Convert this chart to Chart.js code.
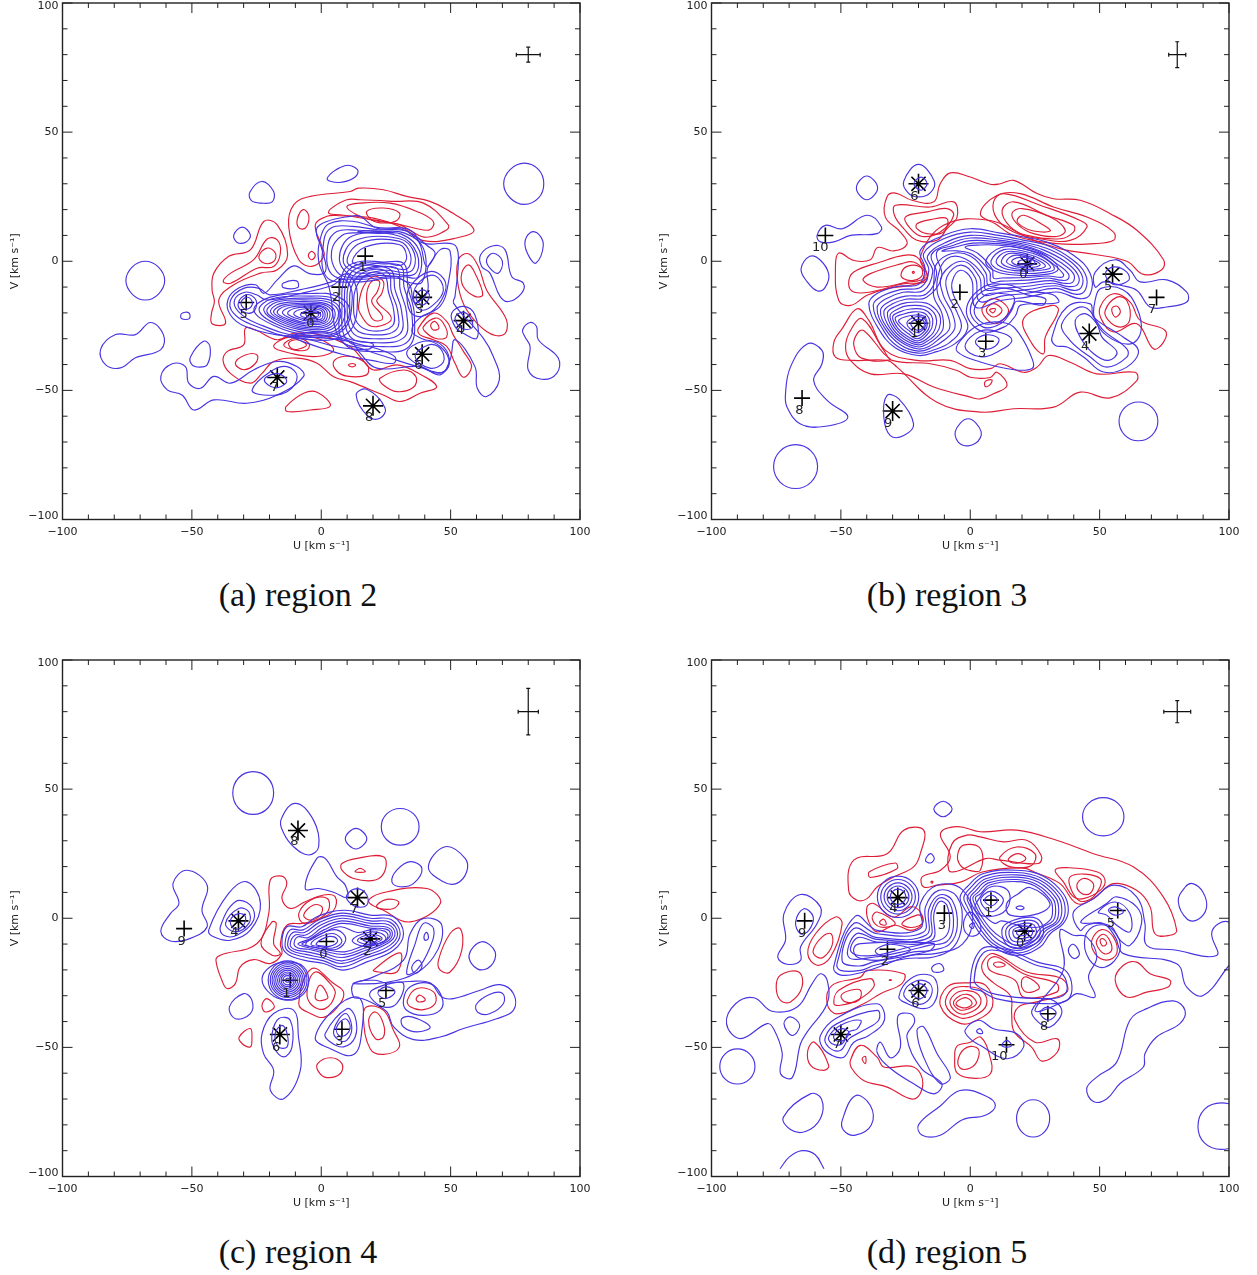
<!DOCTYPE html>
<html>
<head>
<meta charset="utf-8">
<script src="https://cdn.jsdelivr.net/npm/chart.js@4"></script>
<style>
  html, body { margin: 0; padding: 0; background: #fff; }
  #page { position: relative; width: 1257px; height: 1275px; overflow: hidden; }
  canvas { position: absolute; }
  .caption { position: absolute; width: 400px; text-align: center; font: 34px "Liberation Serif", serif; color: #111; }
</style>
</head>
<body>
<div id="page">
  <canvas id="c2" width="608" height="570" style="left:0;top:-10px"></canvas>
  <canvas id="c3" width="608" height="570" style="left:649px;top:-10px"></canvas>
  <canvas id="c4" width="608" height="570" style="left:0;top:647px"></canvas>
  <canvas id="c5" width="608" height="570" style="left:649px;top:647px"></canvas>
  <div class="caption" style="left:98px;top:576px">(a) region 2</div>
  <div class="caption" style="left:747px;top:576px">(b) region 3</div>
  <div class="caption" style="left:98px;top:1233px">(c) region 4</div>
  <div class="caption" style="left:747px;top:1233px">(d) region 5</div>
</div>
<script>
const region2Blue = [
  [2.3,32,9,37,14,35.5,13,32.5,7,30.5],
  [86,30,84,35.5,78.5,38,73,35.5,70.5,30,73,24.5,78.5,22,84,24.5],
  [-27.6,26.7,-23,30.9,-18.4,27,-19,23,-23,22.5,-27,23.5],
  [-33.8,10.2,-30.5,13.2,-27.4,10.2,-29,7.5,-32.5,7.3],
  [78.7,7,81,11.2,84,10.5,85.8,6,83,-0.7,80.5,1.5],
  [-75.5,-7.5,-73,-2.2,-68,0,-63,-2.2,-60.5,-7.5,-63,-12.8,-68,-15,-73,-12.8],
  [-54,-20.3,-51.2,-19.9,-51,-22.2,-54,-22.2],
  [-85.3,-34.2,-79.5,-28.4,-71.8,-28.4,-66,-23.7,-61,-28.4,-62,-34.2,-71.8,-37.4,-77.6,-41.3,-83.4,-40],
  [-50.5,-37,-45.5,-31,-43,-33,-44,-40,-47,-41,-50,-40],
  [-62,-44.6,-59.5,-49.8,-53.8,-51.8,-49.2,-57.6,-41.5,-53.7,-28.7,-55,-17,-51.8,-6.8,-44.6,-9.4,-40.8,-17,-38.8,-26,-42,-35,-47.2,-41.5,-44.6,-46.7,-49.2,-51.2,-47.2,-52.5,-40.8,-57.6,-39.7],
  [-26.7,-49.8,-19.6,-42.7,-13.2,-40.8,-9.3,-44.7,-13.2,-50.5,-22.2,-51.8],
  [-22,-46,-18,-43.5,-14.5,-44.5,-13.5,-47,-18,-49],
  [13.5,-51.8,17.6,-49.6,24.7,-56.9,22.7,-60.8,18.2,-60.2],
  [77.8,-26.6,80.7,-23.7,83.2,-25.3,83.9,-30.4,91.6,-37.5,91,-43.4,85.2,-45.7,80,-42.1,80.7,-33,78.7,-29.2],
  [61.6,2.5,66.5,6,71,4.5,73.6,-5.9,78.1,-8.5,77.4,-12.4,72.3,-15.6,69.1,-13.6,65.2,-4.6,62,-2],
  [63.9,0.6,66.5,3.1,70,0,68.4,-4.6,65.2,-2.7],
  // outer envelope
  [-36.1,-15,-31.9,-10.4,-25.4,-9.1,-22.2,-12.4,-17,-7.2,-10.6,-1.8,-4.2,-4.9,1.6,-4,0.3,4.4,-1.9,12.2,2.2,15.4,11.2,17.4,15,17.4,21.5,12.8,31.8,12.2,39.5,7,51.1,6.6,53,1.9,51.7,-13.6,51.1,-16.2,62.6,-29.8,66.5,-36.9,68.8,-46,63.9,-52.4,60.3,-49.2,59.4,-40.8,51.7,-30.4,49.8,-38.2,45.9,-44,38.2,-40.8,21.5,-41.4,15,-35.6,11.2,-31.1,-17,-28.5,-29.3,-25.3,-35.1,-20.8],
  [-35,-15,-30,-10.5,-24,-10.5,-20,-13,-8,-11,4,-8,10,-5,14,-13,10,-28,-8,-30,-27,-24.5,-34,-20],
  [-33.5,-15,-29.5,-12,-25,-13,-21,-15,-8,-12.5,4,-9.5,9,-7,12,-14,8,-27,-8,-29,-25,-24,-32,-19.5],
  [-32,-16,-29,-13,-26,-14,-25,-17,-27,-20,-31,-19],
  [-31,-16,-29,-14,-27,-15,-27,-17.5,-29.5,-18.5],
  [-14.8,-8.5,-9.5,-7.6,-9.1,-10.2,-14.7,-10.2],
  // star 0 rings
  [-26,-19,-20,-14,-4,-12.5,6,-13.5,11,-19,6,-27.5,-6,-28.5,-18,-25],
  [-24,-19,-19,-14.5,-4,-13.5,5,-14.5,9.3,-19.5,5,-27,-6,-27.6,-17,-24.5],
  [-22.2,-19,-18,-15.3,-4,-14.3,4,-15.3,7.6,-20,4,-26.3,-6,-26.8,-16,-24],
  [-21,-19.5,-17,-15.8,-4,-15,3.2,-16,6.7,-20,3.4,-25.6,-6,-26.2,-15,-23.6],
  [-19.6,-19.7,-16,-16.4,-4,-15.7,2.5,-16.7,5.4,-20.2,2.7,-25,-6,-25.6,-14,-23.3],
  [-18.4,-19.8,-15,-17,-4,-16.3,2,-17.2,4.4,-20.4,2,-24.5,-6,-25,-13,-23],
  [-17,-20,-14,-17.4,-4,-16.8,1.3,-17.7,3.4,-20.5,1.3,-24,-6,-24.3,-12,-22.7],
  [-15,-20,-12,-17.8,-4,-17.3,0.8,-18,2.4,-20.6,0.8,-23.5,-6,-23.8,-11,-22.4],
  [-13,-20.2,-10.5,-18.3,-4,-17.8,0.3,-18.5,1.5,-20.7,0.3,-23,-5,-23.2,-10,-22],
  [-10.6,-20.4,-8.5,-18.8,-4,-18.4,-0.2,-19,0.7,-20.8,-0.3,-22.5,-5,-22.6,-8.5,-21.8],
  [-8,-20.5,-6,-19.3,-3.5,-19,-1,-19.6,-0.2,-20.9,-1.2,-22,-4.5,-22.1,-7,-21.6],
  [-6,-20.6,-4,-19.8,-2,-19.8,-1,-20.8,-2.2,-21.6,-4.5,-21.6],
  // rings round the red S
  [12.5,-17,14,-9,19,-4.5,24.5,-5.5,26,-12,28,-19,27.5,-25,20,-27,14,-24],
  [11,-17,12.5,-8,18.5,-3.5,26,-4.5,27,-11.5,29.5,-19,29,-26.5,20,-28.5,13,-26],
  [10,-17,11.5,-7,18,-2.5,27,-3.5,28.5,-11,31,-19,30.5,-28,20,-30,12,-27.5],
  [9,-17,10.5,-6,16,-1.8,24,-2,29.5,-3,30.5,-11,33,-20,32,-29.5,20,-31.5,11,-29],
  [8,-17,9.5,-5,15,-1,24,-1,31,-2,32,-10,35,-20,33.5,-31,22,-33,10,-30.5],
  [7,-17,8.5,-4,14,-0.3,24,-0.3,32,-1,33.5,-10,36,-21,34,-33,23,-35,9,-32],
  // lower right wing
  [-10,-29.5,4,-29,14,-32,22,-34,28.5,-37,28,-39.5,20,-38.5,8,-36,-6,-31.5],
  [-12,-29,2,-27.5,12,-30.5,20,-32,18.5,-34,8,-33.5,-4,-30.5],
  // rings round cross 1
  [12,0,17,5.5,30,6.5,33,2,31,-1.5,24,-0.5,16,-1.5],
  [10,0,15,7,30,7.8,34.5,2.5,33,-3,25,-2,15,-3],
  [8.5,0,13,8,30,8.8,36,3,34.5,-4,25,-3.5,14,-4.5],
  [7,1,12,9.8,30,9.8,37,3,36,-5,25,-4.5,12,-5.5],
  [4,4,8,10,14,11,22,10.8,31,10.5,38,4,37.5,-6,32,-6,22,-5.5,12,-6.5,6,-4],
  [2.5,6,6,11.5,14,12,22,11.5,32,11,39.5,5,39,-8,33,-8,29,-6,14,-7,4,-5],
  [1,8,4,13,12,13.5,22,12.2,33,11.7,41,6,44,3,41,-3,41,-12,36,-16,34,-9,28,-6.5,14,-8,2,-6],
  [0,10,3,14.5,12,15.5,22,13,34,12.3,38.2,6.5,40.8,-2,46,4.5,49.8,3.9,49.1,-8.4,45.9,-17.5,38,-22,35,-27,39,-30,46,-32,49.5,-38,47,-43,38,-41,25,-37,16,-34,7,-30,3,-10,-1,0],
  [14,11.3,21,11,28,11,20,11.8],
  // star 3, 4, 6
  [35.6,-13.6,38.2,-7.8,44,-5.6,47.2,-11.1,43.3,-16.9,38.2,-18.8],
  [33.3,-16.2,34.3,-9.8,42,-4,47.5,-7,47.5,-13,42,-20,36,-21],
  [36.6,-14.3,38.8,-11.1,41.8,-13,39.5,-16.9],
  [50.4,-20.1,54.9,-17.5,59.4,-20.8,60.1,-29.8,54.9,-27.9,51.7,-25.3],
  [51.7,-22,54.9,-19.7,58.1,-22.7,58.1,-25.9,54.3,-25.9],
  [33,-35.6,39.5,-31,46,-33,49.5,-39.5,46,-43.3,39.5,-41.3],
  [36.3,-36.9,41.4,-32.4,46,-33.7,47.2,-39,42,-41.4]
];
const region2Red = [
  [-8.7,0.6,-12.6,13.5,-10.6,21.9,-4.2,25.1,11.2,27,14.4,28.3,24,27.7,33,25.1,42,23.2,48.5,20,59,12.2,52.3,9,39.5,8,31.8,12.8,20.2,16.7,7.3,17.6,2.2,17.4,-2.3,14.1,0.3,5.7,1,1.9,-3.6,-2],
  [3.5,20.2,9.9,23.8,15,23.8,27.9,23.2,39.5,22.5,49.1,14.1,48.5,12.2,40.8,9.3,35,11.5,30.5,14.1,20.2,16,7.3,18,3,18.5],
  [9.9,21.2,15,22.5,26.6,22.5,36.9,19.3,43.3,15.4,42,12.2,36.3,12.8,29.2,14.5,20.2,15.8,13.7,18],
  [17.6,19.3,24,20.6,30.2,18.7,29.2,15.8,24,14.8,19.5,16],
  [-9.3,16,-7,20,-4.8,17.5,-6,13,-8.5,12.8],
  [-5,2.2,-3.7,3.8,-2.3,2.2,-3.7,0.6],
  [-42.2,-11,-41.5,-4.6,-35.7,1.9,-27.4,4.4,-22.2,15.4,-17,14.1,-13,2.5,-17,-3.3,-23.5,-4.6,-33.8,-9.1,-39.6,-15,-37,-24,-42.2,-24.2,-42.4,-20.1,-41.3,-15.6],
  [-37.9,-7.8,-35,-4.6,-26.1,0.6,-20.9,8.6,-17,8.3,-15.8,3.1,-18.4,-2,-24.8,-2.7,-35,-8.5],
  [-24.1,1.9,-20.9,5.1,-17.7,3.1,-18.4,-0.1,-22.2,-0.7],
  [-37.9,-38.8,-36.4,-35,-30,-32.4,-29.3,-25.9,-25.4,-26.6,-17,-30.4,-10.6,-27.9,-0.3,-28.5,11.2,-33,15,-36.9,20.2,-42.1,29.2,-40.1,36.3,-42.7,44.6,-48.5,38.2,-51.1,30.5,-54.3,24,-51.8,11.2,-46.6,4.8,-44.7,-1.6,-39.5,-9.4,-37.5,-18.4,-38.8,-22.9,-43.4,-27.4,-47.2,-35.1,-43.4],
  [-33.2,-39.5,-29.3,-36.3,-24.8,-36.3,-25.4,-39.5,-29.9,-42],
  [22.7,-45.3,31.8,-42.1,36.6,-44.7,35.6,-48.8,29.2,-50.5,24,-47.9],
  [-18.4,-33,-11.9,-29.2,-1.6,-29.8,4.8,-34.3,-1.6,-36.9,-11.9,-35.6],
  [-14.5,-32.4,-10,-29.8,-4.8,-31.7,-5.5,-34.3,-10.6,-34.3],
  [-12.6,-31.7,-9.4,-30.4,-5.7,-32.4,-8.7,-34,-11.3,-33.9],
  [4.8,-38.8,9,-36.8,14,-37.5,18,-40.5,17.5,-44,10,-44.5,6,-42.5],
  [10.5,-40.2,12,-39.6,13.3,-40.2,12,-40.9],
  [-13.6,-56.3,-6.8,-51.1,-1.6,-50.7,3.5,-56,-4.2,-57.6,-13.2,-58.2],
  [14.4,-17.5,16.3,-9.8,20.2,-5.9,24,-7.8,23.4,-12.4,21.5,-15.6,26.6,-20.8,26.6,-23.3,21.5,-25.3,18.2,-24.6,15,-20.1],
  [17.6,-12.4,19.5,-7.8,22.5,-7.8,21.7,-11.7,19.5,-15.6,23.4,-20.8,23.4,-22.7,20.2,-22.7,18.2,-18.8],
  [37.5,-26,43.3,-20.1,48.5,-23.3,51,-28.5,55,-35,58.1,-40.8,54.9,-44.9,51.7,-39.5,48.5,-33,43.3,-30.4,38.2,-28.5],
  [39.5,-25.3,44,-22,47.2,-24,48.5,-29.2,44,-29.8,40.1,-27.2],
  [42.3,-24.6,44,-23.3,45.5,-25.9,43.3,-26.6],
  [53,0.6,56.9,2.9,60.7,-2,63.9,-11.1,71.6,-22.7,70.4,-28.5,63.9,-27.2,56.2,-18.8,53,-9.8],
  [54.3,-4.6,56.9,-1.4,59.4,-4.6,62.4,-13,59.4,-13.6,54.9,-9.8]
];
const region2Stars = [[-4,-20],[39,-14],[55,-23],[39,-36],[-17,-45],[20,-56]];
const region2Crosses = [[17,2],[7,-10],[-29,-16]];
const region2Labels = [['0',-4.2,-24.2],['1',16,-2.5],['2',5.8,-14],['3',37.8,-18.8],['4',53.7,-27],['5',-30,-20.7],['6',37.5,-40.5],['7',-18,-49],['8',18.5,-60.6]];
const region2Err = [4.6,2.9];

const region3Blue = [
  [-44,28.4,-40,33,-35.8,28.4,-40,23.8],
  [-25.7,31,-20,37.5,-13.9,31,-15.5,26.5,-20,24.9,-24,26.5],
  [-21.8,30,-19,32.6,-16.7,30,-19,27.5],
  [-59.2,10,-56,13.9,-49.5,12.6,-39.9,17.8,-34.3,13.3,-36,10.7,-46.3,10,-52.7,7.5,-57.9,7.5],
  [-65.4,-3,-62,1.9,-58,0.5,-54.7,-5,-56,-10,-59,-11.5,-63,-8],
  [-71.4,-51.3,-69.5,-41,-63,-32,-57.3,-34.5,-57.3,-39.7,-60.5,-46.2,-55.3,-53.9,-47.3,-60.4,-56.6,-64,-65.6,-63,-70.8,-56.5],
  [-33.4,-60.4,-32.2,-52,-27.6,-53.3,-21.9,-63,-25.7,-67.5,-30.9,-67.5],
  [-5.8,-66,-0.8,-61,4.2,-66,2,-70.5,-3.5,-71],
  [-76,-79.5,-73.5,-73.5,-67.5,-71,-61.5,-73.5,-59,-79.5,-61.5,-85.5,-67.5,-88,-73.5,-85.5],
  [57.5,-62,59.7,-56.7,65,-54.5,70.3,-56.7,72.5,-62,70.3,-67.3,65,-69.5,59.7,-67.3],
  // S shaped contours joining star 1 and star 0
  [-39.2,-16.5,-36,-12.5,-28,-9.7,-20,-9,-17.5,-3,-19.3,4.2,-10.3,10,0,12.6,11.6,10.9,20.6,9.4,29.6,7.4,39.9,2.3,46.4,-4.8,46.4,-12.6,42.5,-14.5,33.5,-11.9,21.9,-13.9,11.6,-15.2,2,-17.7,0.5,-7,-3.8,-3.5,-7,-8,-6.5,-13,-3,-20,-1,-26,-6,-32,-13,-35,-20,-36.5,-29,-33.5,-35.5,-26],
  [-37.5,-17,-34,-13.5,-27,-11,-19,-10,-16,-3.5,-18,3,-10,8.8,0,11.3,11,10,20,8.3,30,6,39,1,44.5,-5,44.5,-11,41,-12.8,33,-10.5,22,-12.4,12,-13.5,3.5,-15.5,2,-6.5,-3.5,-1.5,-9,-6,-8.5,-13,-5,-20,-3.5,-26,-8,-31.5,-14,-34.3,-20,-35.6,-28,-33,-34,-26],
  [-36,-18,-32.5,-14.5,-26,-12,-18,-11.3,-14.5,-4,-16.5,2,-9,7.5,0,10,11,9,20,7.5,29.5,5,38,0.5,43,-5,43,-10,40,-11.3,33,-9.5,22,-11,12,-12,5,-13,3.5,-6,-3,0,-11,-5.5,-10.5,-13,-7,-20,-6,-26,-10,-30.5,-15,-33.5,-20,-34.8,-27,-32.3,-33,-26],
  [-34.7,-19,-31,-15.5,-25,-13.5,-17,-12.7,-13,-5,-15,2.5,-8,6.7,0,9,11,8.2,20,6.8,28,4.5,36.5,0,41.5,-5,41.5,-9,38,-9.8,32,-8.5,22,-9.7,12,-10.5,6,-11,5,-5.5,-2,1,-9,1,-12.5,-6,-12.5,-13,-9,-20,-8,-26,-12,-30,-16,-33,-20,-34,-26.5,-31.5,-32,-26],
  [-33.4,-19.5,-30,-16.5,-25,-14.7,-17,-14,-11,-6,-13,3.5,-7,6,0,8,11,7.5,20,6.2,27,4,35,-0.5,40,-5,39.5,-8.2,36,-8.5,31,-7.5,22,-8.5,12,-9,7,-9.5,6,-4.5,0,2,-7,3,-13,-1,-14,-7,-14,-14,-11,-20,-10.5,-26,-13,-29.5,-16.5,-32,-20,-33.2,-26,-31,-31,-26],
  // star 1 rings
  [-32,-20,-29,-17.5,-24.5,-16,-17,-16.2,-13,-19,-11.5,-22,-12,-26,-14,-29,-17,-31.2,-20,-32.4,-25.5,-30.3,-30,-26],
  [-31,-21,-28,-18.5,-24,-17.2,-17.5,-17.5,-14,-20,-13,-23,-13.5,-26,-15,-28.5,-20,-31.6,-25,-29.6,-29,-26],
  [-30,-21.5,-27,-19.5,-23,-18.5,-18,-18.7,-15,-21,-14.5,-24,-15.5,-27,-20,-30.8,-24.5,-28.9,-28,-26],
  [-29,-22,-26,-20.5,-22,-19.6,-18,-20,-16,-22,-15.7,-25,-17,-27.5,-20.5,-30,-24,-28,-27,-25.5],
  [-27.7,-23,-25,-21.5,-21,-20.8,-18,-21.2,-16.8,-23,-17,-26,-20.5,-29,-23.5,-27,-26,-25],
  [-24.5,-24,-21,-21.5,-17.5,-22.5,-17.5,-25.5,-21,-27.5],
  [-23,-24,-20,-22.5,-17.8,-23.5,-18.5,-26,-21,-26.5],
  // band round star 0
  [-11,4,-5,5.7,1,7,11,6.8,20,5.6,27,3.5,33.5,-1,38,-5,37.5,-7.2,34,-7.2,30,-6.5,22,-7.3,12,-7.7,8,-8,7.5,-4,1,2.5,-5,4],
  [-2,5.5,4,6.3,11,6.2,20,5,26,3,32,-1,36,-5,35.5,-6.2,30,-5.7,22,-6.3,12,-6.5,9,-6.5,8.5,-3,3,3],
  [6,0,12,5.3,22,4.5,30,1.5,34,-3,30,-5,20,-5.5,10,-4],
  [8,0,13,4.5,22,3.6,29,1,32.5,-3,28.5,-4.3,20,-4.7,11,-3.3],
  [10,0,14,3.7,22,2.8,28,0.5,31,-2.5,27,-3.5,20,-3.8,13,-2.7],
  [12,0,15,3,22,2.1,27,0,29,-2,25.5,-3,20,-3.2,14,-2],
  [14,0,17,2.3,22,1.5,26,-0.3,27,-1.5,24,-2.4,20,-2.5,16,-1.6],
  [16,0,19,1.5,23,1,25,-0.5,23,-1.7,19,-1.8],
  [18.5,-0.2,21,0.6,23.5,-0.1,22,-1,19.5,-1],
  // below star 0
  [0,-19,5,-11.5,14,-10.5,22,-13,29,-14.5,28,-17,18,-15.5,16,-19,12,-24,5,-25.5],
  [-1.5,-19,5,-10,14,-9,22,-11.5,32,-13,34,-16,19.5,-17,17.5,-21,13,-25.5,4,-27],
  [1.5,-19,6,-13,12,-12.5,17,-14,15,-20,11,-23.5,5,-24],
  // cross 3
  [2,-31,6,-28.5,11,-30,9.5,-33,5,-34],
  [-2,-33,3.9,-27,12.9,-28,16.1,-30.7,11.6,-34.5,3.9,-37],
  [-5,-35,-4,-31,3.9,-24.5,14,-24,18.9,-28,24,-38,23.9,-41.5,17,-42,3.9,-39],
  // star 4
  [40.6,-22.9,44.4,-20.3,48.9,-24.2,50.9,-29.4,56.7,-35.2,53.4,-38.4,47.7,-35.8,42.5,-29.4],
  [35.4,-24.2,43.8,-17.7,51.5,-26.8,60.5,-33.9,60.5,-37.1,52.8,-41,46.4,-37.1,38.6,-30.7],
  [31.6,-29.4,37.4,-17.7,46.4,-16.5,47.7,-21.6,59.2,-29.4,65,-34.5,60.5,-41,51.5,-42.9,43.8,-37.1,37.4,-33.2,32.9,-32.6],
  // star 5 and tail to cross 7
  [48.3,-4.2,56,0.6,61.8,-3.5,65.7,-8,76,-7.2,83.7,-12,83.7,-15.8,76,-17.7,69.5,-17.7,64.4,-11.3,58,-9.3,51.5,-8,48.3,-10],
  [52.2,-4.8,55.4,-2.2,60.5,-4.2,61.2,-7.4,55.4,-9],
  [48.3,-15,50.5,-10.5,59,-11,64.4,-18,66,-27,62,-32,53,-29,48,-22]
];
const region3Red = [
  [-50.8,-15.2,-52.1,-2.2,-50.8,3.2,-45,0.3,-38.6,0.6,-35.8,5.3,-29.6,4,-24.4,6.8,-27,11.3,-32.8,17.1,-32.2,24.9,-28.9,26.4,-22.5,23.6,-14.1,23,-11.6,30,-7.7,34.2,0,32.6,7.7,29.8,11.6,30,16.8,31.3,25.8,26.2,32.2,24.2,42.5,23.6,54.1,18.4,64.4,12,74.7,0.6,74,-3.3,67,-5.1,60.5,0,47.7,2.7,36.1,4.5,23.2,8.7,7.7,15.8,-10.3,13.9,-19.3,1.6,-16.7,-6.1,-21.9,-9,-32.1,-10.6,-39.9,-13.2,-46.3,-17.1],
  [-28.9,21.7,-15.4,21,-6.4,23,-5.1,17.1,-9,12.6,-12.9,8.1,-20.6,8.1,-25.7,12.6,-29.3,17.8],
  [-25.1,17.1,-16.7,19.1,-9,20.4,-6.4,17.8,-11.6,11.3,-18.6,9.6,-23.1,12.6],
  [-20.6,14.5,-15.4,16.1,-9,16.5,-10.3,11.3,-16.7,10.7,-20.6,12.6],
  [-47,-8.7,-45,-4.2,-34.7,-0.3,-25.7,2.3,-20.6,1.6,-16.7,-4.8,-17.4,-8,-25.7,-8.7,-38.6,-11.9,-45,-11.9],
  [-41.4,-7.4,-38.6,-4.8,-26.4,-0.9,-21.9,-0.3,-18,-3.5,-18,-6.8,-24.4,-8.1,-36,-10],
  [-26.7,-4.8,-24.4,-2,-19.3,-2.2,-18.6,-5.5,-21.9,-7.4,-25.7,-6.8],
  [-22.4,-4.3,-22,-3.9,-21.6,-4.3,-22,-4.7],
  [-52.7,-31.3,-49.5,-26.1,-43.7,-18.4,-39.2,-22.9,-32.8,-34.5,-20.6,-38.4,-7.7,-38.4,0,-41.6,7.7,-41.6,11.6,-39.7,20.6,-43,25.8,-41,30.3,-36.5,38.6,-39.1,48.9,-43.6,63.7,-43,64.4,-46.2,54.1,-52.9,42.5,-50.7,32.2,-56.5,16.8,-57.1,3.9,-58.4,-12.9,-54.6,-28.3,-41,-32.1,-38.4,-45,-38.4,-52.1,-37.1],
  [-48.2,-33.2,-46.3,-26.8,-41.8,-22.3,-33.4,-34.5,-30.2,-38.4,-15.4,-39.7,-5.1,-42.3,0,-44.9,7.7,-45,10.3,-43,14.2,-48.1,9,-51.3,3.9,-53.3,0,-52.6,-14.1,-48.7,-25.7,-43.6,-38.6,-43.6,-46.3,-38.4],
  [-45,-32.6,-43.7,-28,-41.2,-26.8,-33.4,-35.8,-31,-38.2,-42,-37.5],
  [5.8,-46.5,8.4,-46,7.5,-48,5.8,-48.5],
  [4.5,-19,9,-14.5,14.8,-19,9.7,-24.2],
  [6.2,-19,9,-16.4,12.3,-19,9,-21.6],
  [7.5,-18.8,9.7,-18.4,8.8,-20],
  [20.6,-22.3,31.6,-17.1,34.1,-19,29,-29.4,28.3,-35.8,23.9,-32],
  [50.2,-17.7,55.4,-12.6,61.8,-15.8,65.7,-22.9,75.3,-26.8,74.7,-31.3,70.8,-33.9,64.4,-24.2,55.4,-27.4,50.9,-22.9],
  [52.2,-19,56.7,-13.9,60.5,-15.2,61.6,-22.9,58,-25.5,53.4,-22.9],
  [54.7,-18.4,56.7,-17.4,58,-19.7,56,-21.6],
  [3.9,18.4,10.3,25.5,19.3,26.2,32.2,21,45.1,17.1,55.4,11.3,55.4,8.1,47.7,6.8,33.5,6.8,16.8,10,9.7,14.5],
  [9,23,12.9,26.2,27,21.7,42.5,15.8,45.1,13.3,38.6,8.1,27,8.7,16.8,11.3,10.3,16.5],
  [12.3,19.7,16.8,23,29.6,17.8,39.9,13.9,39.9,11.3,34.8,8.7,21.9,10,15.5,13.3],
  [16.1,18.4,20,20.4,30.9,17.1,36.7,12,33.5,9.6,24.5,10.7,18.7,13.9],
  [18.1,15.8,20.6,17.8,28.4,13.9,30.9,11.7,24.5,11.7,20,13.5]
];
const region3Stars = [[22,-1],[-20,-24],[46,-28],[55,-5],[-20,30],[-30,-58]];
const region3Crosses = [[-4,-12],[6,-31],[72,-14],[-65,-53],[-56,10]];
const region3Labels = [['0',20.5,-5],['1',-21.6,-28],['2',-6,-16.7],['3',4.6,-35.7],['4',44.4,-33],['5',53.3,-9.7],['6',-21.6,25],['7',70.3,-18.6],['8',-66,-57.8],['9',-31.7,-63],['10',-58,5.4]];
const region3Err = [3.3,5];

const region4Blue = [
  [-34.2,48.5,-31.9,54.4,-26.3,56.8,-20.7,54.4,-18.4,48.5,-20.7,42.6,-26.3,40.2,-31.9,42.6],
  [-15.6,38,-10,44.5,-3,38,-1,27.7,-4.9,24.5,-10.7,27.7,-14.5,32.9],
  [9.3,30.8,13.4,34.8,17.6,30.8,13.4,26.8],
  [23.2,35.4,25.3,40.4,30.5,42.5,35.7,40.4,37.8,35.4,35.7,30.4,30.5,28.3,25.3,30.4],
  [27.3,14.1,29.2,18.6,34.4,21.9,38.9,19.3,35.7,13.5,30.5,12.2],
  [41.4,19.9,47.9,27.7,55.6,23.2,56.2,18,52.4,13.5,47.2,14.1],
  [57.1,-14.4,62,-9.1,67.2,-13,65.5,-18.5,60.5,-19.7],
  [-55,5.7,-57.3,13.5,-51.9,18.6,-44.1,12.8,-46.1,3.1,-44.1,-3.3,-50.6,-7.8,-58.3,-8.8,-62,-5,-58.3,1.8],
  [-43.5,-4.6,-35.8,9.6,-28.7,14.1,-23.5,5.7,-27.4,-4.6,-35.1,-8.5,-41.6,-7.2],
  [-39,-3.3,-33.2,6.4,-27.4,5.1,-26.1,-0.7,-32.6,-6.6,-37.7,-6.6],
  [-37,-2,-31.9,3.8,-28,2.5,-28,-2,-33.2,-5.3],
  [-35.1,-0.7,-31.9,1.8,-29.3,0.6,-30.6,-3.3,-33.8,-4],
  [-6.2,11.5,-1.7,23.2,1.5,23.2,6,16.1,9.3,12.8,10,8,5,10,-1,11.5],
  [9.9,9,13.8,11.5,17.6,9,17.6,5.1,13.8,4.4,10.6,6.4],
  // centre, rings round crosses 0 and star 2
  [-15.2,-9.8,-13.3,-3.3,-7.5,-3.3,-1.7,0.6,8.6,3.1,18.9,1.2,27.9,0.6,31.8,-5.9,27.9,-12.4,17.6,-16.9,8.6,-20.1,0.9,-17.5,-6.8,-16.2,-13.3,-13.7],
  [-14,-10,-12,-4.5,-7,-4.5,-1,-0.7,8,2,19,0,27,-0.5,30.5,-6,27,-11.5,17,-15.5,8,-18.8,1,-16.5,-6.5,-15,-12.5,-13],
  [-13,-10,-11,-5.5,-6.5,-5.5,-0.5,-1.5,8,1,19,-1,26.5,-1.5,29.5,-6,26.5,-10.5,17,-14.5,8,-17.5,1,-15.5,-6,-14,-11.5,-12.5],
  [-12,-10,-10,-6.5,-6,-6.5,0,-2.5,8,0,19,-2,26,-2.5,28.5,-6,26,-9.5,17,-13.5,8,-16.5,1,-14.5,-5.5,-13,-10.5,-12],
  [-10.5,-10,-9,-7.2,-5,-7.5,0.5,-3.5,8,-1,19,-3,25.5,-3.5,27.5,-6,25.5,-9,17,-12.5,8,-15.2,1,-13.5,-5,-12,-9,-11.5],
  [-9,-10,-4.5,-8,1,-4.5,8,-2,19,-3.8,25,-4.2,26.7,-6,25,-8.5,17,-11.5,9,-14,1,-12.7,-4.5,-11.5],
  [-7.5,-10,-4,-8.3,1.5,-5.2,7.5,-3.3,14,-5.5,19,-4.5,24.5,-5,25.8,-7,23.5,-9.5,17,-10.5,9,-13,1,-12,-4,-11],
  [-6,-10,0,-6,6,-4.5,9.5,-8,6,-12,-1,-11.5],
  [-4,-10,0,-7,5,-6,8,-9,4.5,-11.5,-0.5,-11],
  [-2,-10,1.5,-7.5,5,-7.2,6.3,-9,3.5,-10.8,0,-10.7],
  [12,-8.5,18,-5.5,23,-5.8,25,-8,22,-10,16,-10.8],
  [14,-8.5,18.5,-6.3,22,-6.7,23.5,-8,21,-9.5,17,-10],
  [16,-8.3,19,-7,21.3,-7.4,21.8,-8.4,19.5,-9.3],
  // cross 1 rings
  [-22.9,-23.7,-19.7,-18.8,-13.3,-16.9,-6.8,-18.8,-4.9,-25.3,-8.1,-30.4,-13.9,-31.7,-19.7,-29.2],
  [-20.5,-24,-18.3,-18.7,-13,-16.5,-7.7,-18.7,-5.5,-24,-7.7,-29.3,-13,-31.5,-18.3,-29.3],
  [-19.7,-24,-17.7,-19.3,-13,-17.3,-8.3,-19.3,-6.3,-24,-8.3,-28.7,-13,-30.7,-17.7,-28.7],
  [-19,-24,-17.2,-19.8,-13,-18,-8.8,-19.8,-7,-24,-8.8,-28.2,-13,-30,-17.2,-28.2],
  [-18.3,-24,-16.7,-20.3,-13,-18.7,-9.3,-20.3,-7.7,-24,-9.3,-27.7,-13,-29.3,-16.7,-27.7],
  [-17.6,-24,-16.2,-20.8,-13,-19.4,-9.8,-20.8,-8.4,-24,-9.8,-27.2,-13,-28.6,-16.2,-27.2],
  [-16.9,-24,-15.7,-21.3,-13,-20.1,-10.3,-21.3,-9.1,-24,-10.3,-26.7,-13,-27.9,-15.7,-26.7],
  [-16.2,-24,-15.2,-21.8,-13,-20.8,-10.8,-21.8,-9.8,-24,-10.8,-26.2,-13,-27.2,-15.2,-26.2],
  [-15.5,-24,-14.8,-22.2,-13,-21.5,-11.2,-22.2,-10.5,-24,-11.2,-25.8,-13,-26.5,-14.8,-25.8],
  [-14.8,-24,-14.3,-22.7,-13,-22.2,-11.7,-22.7,-11.2,-24,-11.7,-25.3,-13,-25.8,-14.3,-25.3],
  [-14,-24,-13,-23.2,-12,-24,-13,-24.8],
  // right hand side
  [12.5,-25.3,31.8,-23.3,43.4,-15,46.6,-2.7,39.5,-0.1,34.4,-5.9,31.8,-16.2,20.2,-22.7],
  [36.3,-9.8,39.5,-2,43.4,-4,42.1,-11.1,36.9,-20.1,33,-21.4],
  [35,-18.8,37.6,-16.2,38.9,-18.8,36.3,-21.4],
  [39.8,-6.6,40.8,-5.5,41.4,-7.8,40.1,-8.5],
  [19.6,-27.9,26.6,-25.3,31.8,-25.3,29.2,-33,24,-34.3,18.9,-30.4],
  [22,-28.5,25.5,-26.6,28.5,-28.5,25.5,-31,23,-30.5],
  [12.5,-25.3,12.5,-30.5,15.7,-31.1,20.2,-33,25.4,-36.3,28,-42.1,35.7,-47,46,-46,55,-42.7,67.8,-38.9,74.3,-35.6,74.3,-29.2,69.1,-25.7,61.4,-27.9,51.1,-31.1,46.6,-30.5,42,-25,34,-24.5,25,-25,20.5,-24],
  [31.8,-31.4,34.4,-26.5,42.1,-25.3,46.6,-30.5,46,-35.6,39.5,-37.6,33,-35.6],
  [59.9,-33.4,65,-29.5,70,-29,70.4,-33,65,-37,60.6,-36.5],
  [31.1,-38.9,35,-38.2,42.1,-42.1,37,-44,31.8,-42.1],
  // cross 3, star 6
  [-2.3,-46,7.3,-33.1,15,-31.1,15.7,-43.4,12.5,-52.8,3.5,-50.5],
  [1.5,-44.7,9.9,-35,13.1,-38.2,13.1,-46,8.6,-49.8,3.5,-47.9],
  [4.8,-43.4,9.3,-36.9,11.8,-42.1,9.9,-47.2,6.7,-47.2],
  [6,-42.1,9.3,-38.9,11.2,-42.1,9.3,-45.3,6.7,-45.3],
  [-35.5,-34.3,-30,-29.2,-26.8,-31.7,-27.4,-36.9,-33.2,-38.9],
  [-22.9,-44.7,-18.4,-36.9,-10.7,-35.6,-8.8,-46,-8.1,-58.9,-14.5,-69.9,-19.7,-66.6,-18.4,-58.9,-22.3,-52.4],
  [-19,-44.7,-16.5,-38.9,-12,-39.5,-11.3,-49.8,-14.5,-53.7,-18.4,-49.8],
  [-17.8,-44.7,-15.2,-41.5,-13.2,-44.7,-13.2,-49.8,-16.5,-49.8]
];
const region4Red = [
  [8,21.2,13.8,23.2,24,23.8,24.7,18.6,20.9,14.8,12.5,15.4,8,18.6],
  [13.1,18,15,19.3,17,18],
  [-40.7,-16.2,-39,-14.3,-24.8,-9.8,-20.3,1.8,-19.7,14.8,-15.2,16.3,-13.3,13.5,-15.2,7.7,-12,3.8,-6.2,6.4,0.9,9,5.4,8.3,4.8,3.1,-1.7,-0.7,-7.5,-2,-13.3,-2.7,-15.8,-9.8,-15.2,-13.7,-19.7,-17.5,-26.1,-16,-31.3,-18.8,-33.2,-25.3,-36.4,-27.2,-38.4,-24],
  [-8.7,1.8,-4.2,7,2.2,7.7,2.8,3.1,-1.7,-0.7,-6.8,-2],
  [-6.8,1.2,-3,5.1,0.3,4.4,-0.4,1.2,-4.2,-0.7],
  [-23.3,-9.8,-19,-1.4,-17.4,-2,-18.4,-9.8,-15.8,-13.7,-19,-14.3],
  [18.3,6.4,22.8,9.6,40.8,11.5,46,5.7,34.4,-1.4,24,3.1],
  [21.5,5.1,25.4,7.3,29.9,6.4,28,3.8,22.1,3.8],
  [20.2,-20.1,30.5,-13.4,29.2,-20.8,22.1,-20.8],
  [45.3,-16.2,49.8,-5.9,53.7,-4,54.3,-12.4,49.8,-20.8,46,-20.1],
  [-8.7,-33,-3.6,-19.5,4.8,-25.3,8.6,-28.5,7.3,-33,1.5,-38.2,-4.2,-36.9],
  [-5.5,-28.5,-2.3,-20.8,3.5,-25.3,5.4,-29.2,1.5,-35,-3.6,-33.7],
  [-2.3,-29.8,-0.4,-25.9,2.6,-30.5,0.9,-31.7,-1.7,-31.7],
  [-22.9,-33.7,-21,-31.1,-18.1,-34.3,-21.6,-36.3],
  [33.3,-31.7,37,-27.2,43.4,-28.5,44,-33,39.5,-35.4,34.4,-34.3],
  [36.7,-31.1,38.2,-29.8,40.2,-31.7,37.6,-32.4],
  [16.3,-38.9,17.6,-34.3,24,-35.6,27.9,-43.4,30.2,-49.8,24,-52.7,18.9,-50.5],
  [18.3,-39.5,20.9,-36.3,24,-40.8,24,-46,20.9,-46.6],
  [-31.7,-46,-27.4,-42.7,-26.8,-47.2,-27.4,-49.8,-30.6,-48.5],
  [-1.4,-56.3,3.5,-54,8,-56.3,7.3,-60.2,2.2,-61.7,-1,-59.5]
];
const region4Stars = [[19,-8],[-32,-1],[-16,-45],[14,8],[-9,34]];
const region4Crosses = [[2,-9],[-12,-24],[8,-43],[25,-28],[-53,-4]];
const region4Labels = [['0',0.8,-14],['1',-13.5,-29],['2',17.8,-12.8],['3',7,-47.7],['4',-33.6,-5.4],['5',23.5,-33],['6',-17.4,-50],['7',12.7,3.5],['8',-10.4,29.5],['9',-54,-9]];
const region4Err = [3.9,9];

const region5Blue = [
  [-14.1,42.3,-10.5,45.3,-7,42.3,-10.5,39.3],
  [-74.4,-15,-71.4,-8.5,-72,1.8,-65.6,9.2,-57.9,4.4,-59.2,-2,-65.6,-11.1,-65.6,-16.3,-70.8,-17.8],
  [-67.5,-1.4,-64.3,3.7,-60.7,0.5,-62.4,-4.7,-65.6,-6],
  [-94.2,-40.8,-90.7,-33.1,-83.6,-30.8,-76.6,-36,-66.9,-34.4,-61.1,-25.3,-57.9,-21.5,-55.3,-24,-55.3,-33,-63,-44,-65.6,-48.6,-68.8,-61.7,-73.3,-60.2,-72.7,-52,-75.9,-43,-78.5,-40.8,-88.8,-46.6],
  [-72,-40.8,-69.5,-38.2,-65.9,-41.5,-68.8,-45.4],
  // cross 2 band
  [-52.8,-18.9,-44.4,0.8,-36,-4.7,-19.3,-4,-19.3,5.7,-12.8,12.8,-3,11,1,0,-3,-10,-13,-13.6,-23,-14.4,-33,-18,-42,-21,-50,-22],
  [-51.5,-17.6,-45,-2,-36,-6,-18,-5.3,-17.3,4.4,-12.2,10.8,-5.1,8.3,-3.2,-2,-6.4,-11.1,-14.1,-15,-24.4,-15.6,-37.3,-18.3,-42.4,-20.2,-50.2,-20.2],
  [-49.5,-16.5,-45,-4,-36,-7.5,-17,-6.5,-16,3.5,-12,9,-7,7,-5,-3,-8,-10,-15,-12.5,-24,-14.5,-37,-16.8,-43,-18.5],
  [-47,-15,-44,-6,-36,-8.2,-16,-7.5,-15,2.5,-12,7.8,-8,6,-6.5,-3,-9,-9,-16,-10.5,-24,-12.5,-37,-15],
  [-46,-13,-43.5,-7.5,-36,-9.2,-15,-8.5,-14,2,-11.8,6.5,-9,5,-8,-3,-10,-7.5,-16,-9.5,-25,-11.5,-38,-14.5],
  [-45,-11.7,-42.4,-9.8,-14.1,-9.8,-15.4,-12.4,-21.9,-13,-29.6,-15,-36,-16.3,-43.7,-15],
  [-36.7,-12.8,-31.5,-10.1,-23.1,-12.2,-31.5,-15],
  // star 4
  [-35.9,8.3,-33.5,14,-27.9,16.3,-22.3,14,-19.9,8.3,-22.3,2.6,-27.9,0.3,-33.5,2.6],
  [-34.6,8.3,-32.6,13,-27.9,15,-23.2,13,-21.2,8.3,-23.2,3.6,-27.9,1.6,-32.6,3.6],
  [-33.3,8.3,-31.7,12,-27.9,13.7,-24.1,12,-22.5,8.3,-24.1,4.6,-27.9,2.9,-31.7,4.6],
  [-32.1,8.3,-30.9,11.2,-27.9,12.5,-24.9,11.2,-23.7,8.3,-24.9,5.4,-27.9,4.1,-30.9,5.4],
  [-30.9,8.3,-30,10.4,-27.9,11.3,-25.8,10.4,-24.9,8.3,-25.8,6.2,-27.9,5.3,-30,6.2],
  // star 6
  [-27.6,-30.5,-23.1,-23.4,-15.4,-22.1,-12.6,-26.6,-14.1,-33,-18,-35,-24.4,-33],
  [-25.7,-29,-21.2,-24.4,-16,-25,-14.8,-29,-18,-33,-23.1,-32.4],
  [-22.9,-28.5,-19.6,-25.3,-16.7,-27.9,-19.3,-31.2],
  // star 7
  [-57.9,-45.4,-52.1,-38.9,-36,-33.1,-33.2,-39.5,-39.2,-45.4,-45,-48,-48.9,-53.8,-53.4,-53.1,-57.2,-49.9],
  [-56,-46,-51.5,-40.8,-36,-35.7,-35.4,-39.5,-41.2,-43.4,-46.9,-46.7,-50.2,-51.2,-54.7,-49.9],
  [-54.7,-46,-50.2,-41.5,-42.4,-39.5,-43.7,-42.8,-46.9,-44.1,-49.5,-48.6,-53.4,-48.6],
  [-52.7,-45.3,-49.9,-42.8,-46.9,-44.1,-48.9,-47.2,-52.1,-47.2],
  // lower wiggles
  [-20.6,-43.4,-18,-42.1,-12.8,-52.5,-7.7,-61.5,-11.6,-64,-18,-53.8],
  [-34.7,-48,-30.9,-54,-27,-50,-28,-38,-23,-37,-21.5,-40,-24.5,-46,-19,-58,-11,-64,-14,-68,-22,-64,-31,-58,-36,-52],
  [-72.2,-77,-61.8,-68,-57.5,-70,-57.9,-77.5,-63.7,-82.6,-69.5,-81.8],
  [-49.4,-78,-44.4,-68.7,-38.6,-72.5,-38.2,-80,-44.4,-84,-49,-82],
  [-96.8,-57.4,-94.8,-52.6,-90,-50.6,-85.2,-52.6,-83.2,-57.4,-85.2,-62.2,-90,-64.2,-94.8,-62.2],
  [-20,-80,-11.6,-72.7,-3.9,-66.7,5.8,-68.7,9.7,-72.5,5.8,-76.3,-3,-78,-11.6,-84,-18.6,-84],
  [17.9,-77.5,19.8,-72.4,24.3,-70.3,28.8,-72.4,30.7,-77.5,28.8,-82.6,24.3,-84.7,19.8,-82.6],
  [45,-66,48.9,-61.5,56.6,-55.7,61.7,-39.5,68.2,-35,78.5,-32,83,-35.7,81,-40.8,72,-46,67.5,-52.5,66.9,-57.6,57.9,-64,52.7,-70,47.6,-71],
  [43.4,39.3,45.7,44.5,51.4,46.7,57.1,44.5,59.4,39.3,57.1,34.1,51.4,31.9,45.7,34.1],
  [80.4,6.5,83,12,86,13.4,90,10,91.3,4,88,-0.5,84,-0.5],
  [88,-80.6,90.5,-74,97,-71.5,104,-74,106,-80.6,104,-87,97,-89.5,90.5,-87],
  // right side
  [39.9,2.4,47.6,7.6,55.3,12.8,64.3,8.3,67.5,-2,68.2,-10.5,78.5,-12.2,95.2,-14.4,93.3,-6,95.9,-2.1,100.6,-1.8,108,-10,100.6,-17.6,90,-29.9,83.6,-26.6,79.8,-17.6,59.2,-13.7,56,-7.2,51.4,-2,45,-2.7,42.4,-4.7],
  [42.7,-1.4,52.7,5.7,56.6,8.3,64.3,4.4,66.2,-2,61.7,-10.5,57.9,-8.5,54.7,-3.4,50.2,-2],
  [49.5,2.4,56,6.3,61.7,1.8,61.7,-5.3,56.6,-2.7,52.7,1.2],
  [53.4,3.1,56,4.4,59.2,2.4,56,1.2],
  [44.4,-7.2,48.9,-2.7,55.3,-4.7,57.9,-12.4,52,-19,46,-16],
  // centre, cross 1 and star 0
  [-3.9,8.3,-1.3,12.1,5.1,17.3,18,18.6,28.3,16.3,36,9.5,37.9,3.1,36,-2,30.9,-6,27,-11.1,18,-14.4,9,-11.1,3.8,-6,0,0.2,-2.6,4.4],
  [-2.5,8,-0.2,11.5,5.5,16.3,18,17.7,27.5,15.5,35,9,36.7,3,35,-2,30,-5.5,26,-10.5,18,-13.5,9.5,-10.3,4.8,-5.5,1,0.2,-1.2,4.5],
  [-1.2,8,1,11,6,15.3,18,16.8,27,14.7,34,8.5,35.4,3,34,-1.5,29,-5,25.3,-9.8,18,-12.5,10,-9.5,5.8,-5,2,0.5,0,4.5],
  [0,8,2,10.5,6.5,14.5,18,15.9,26.2,14,33,8,34.2,3,33,-1.5,28,-4.5,24.5,-9,18,-11.5,11,-8.5,6.8,-4.5,3,1,1,4.5],
  [1,8,3,10,7,13.7,18,15,25.5,13.2,32,7.5,33,3,32,-1,27,-4,23.5,-8.5,18,-10.5,12,-7.5,7.8,-4,4,1.2,2,4.8],
  [2,8,4,9.5,7.5,12.9,18,14.2,25,12.5,31,7,31.8,3,31,-0.5,26,-3.5,18,-2.5,12,-1,9.5,-2,5,1.5,3,5],
  [18.6,9.5,23.1,11.9,30.8,5.7,26.3,1.8,15.4,1.2,14.1,5.7],
  [3,7,8.1,12.2,14.7,10.5,14,3.4,7,0.6,2,3],
  [4,7,8.1,10.5,12.8,7,8.1,2.5],
  [5.5,7,8.1,9,10.5,7,8.1,4.8],
  [17.7,4.1,19.3,4.8,20.8,4,19.3,3.3],
  [12.2,-4.6,16.7,-0.8,25.7,-0.1,28.3,-5.9,23.8,-10.5,15.4,-11.1],
  [13.7,-5,17,-1.8,25,-1.2,27,-6,23,-9.5,16,-10],
  [15,-5,17.5,-2.8,24,-2.2,25.5,-6,22.5,-8.5,16.5,-8.8],
  [16.5,-5,18.3,-3.6,23,-3.2,24,-6,21.5,-7.6,17.5,-7.6],
  [18,-5.2,19.5,-4.3,21.8,-4.3,22.5,-5.8,20.5,-6.7,18.5,-6.5],
  [38,-11.8,39.9,-10.1,42.2,-13.7,40.5,-15.6,38.6,-14.4],
  [-2.6,-2,0,2.4,3.8,-2,3.2,-6,-0.7,-6.6],
  [-0.3,-2.8,1.5,-1.8,1,-4],
  // below star 0, cross 8
  [0,-26.6,3.8,-12.4,12.8,-11.8,25.7,-16.9,37.3,-20.8,38,-31.2,25.7,-33,10.3,-31.2,3.8,-28],
  [1.5,-24,5,-13.5,13,-13,25,-18,35.5,-21.5,36.5,-29.5,25,-31,10,-29.5,4,-27],
  [23.8,-35.7,29.6,-31.1,35.4,-35.7,30.9,-42.1,26.3,-40.2],
  [27,-36.7,29.8,-34.4,33.2,-36.7,30.2,-39.5],
  [25,-35.7,37.3,-31.8,41.1,-29.2,48.2,-30.5,45.7,-22.7,48.9,-15,45,-7.2,39.9,-6.6,34.7,-4.7,36,-20],
  [-2,-43.4,3.2,-39.5,9,-42.8,18,-44.7,20.6,-49.9,14.1,-54.4,3.8,-49.2,0,-46.7],
  [2.5,-43.5,3.8,-42.8,4.8,-44.5,3.2,-44.5],
  [12.2,-49.2,14.1,-47.3,16,-49.2,14.1,-49.9],
  [-14.8,-18.9,-11.6,-17.6,-10.3,-20.2,-14.1,-20.8],
  [-17.3,22.5,-15.4,25,-13.9,23.1,-15.4,21.4]
];
const region5BlueOpen = [
  [-73.5,-97,-70,-92.5,-65,-90,-60,-91.5,-56.5,-97]
];
const region5Red = [
  [-11.5,32.8,-5,35.5,3.8,33.5,18,34.1,33.4,30.2,47.6,25,63,19.9,74.6,8.3,79.8,-4.7,77.2,-6.6,71.4,-6,69.5,4.4,64.3,10.8,55.3,13.4,47.6,7.6,41.2,5.7,34.7,13.4,25.7,17.5,20,19.5,5,18,-3.8,14,-12.8,12.8,-18,12.1,-18.6,16,-11.5,18.6,-7.7,23.8],
  [-8.3,18.6,-7,28.9,-1.3,32.2,3.9,31.5,12.8,29.6,21.8,30.2,27.4,24.4,26.3,21.2,11.5,22.5,5.8,23.1,-3.9,18.6],
  [-4.9,24.4,-2.6,28.3,3.9,27,3.9,18.6,-0.6,18.6,-3.8,20.5],
  [11.5,23.8,18,27.6,25,25,23.8,20.5,17.3,19.6,12.8,21.2],
  [14.8,23.1,18.6,25,21.5,23.1,18.6,21.4,15.4,21.8],
  [-47,10.8,-45,22.5,-32.1,25,-25.7,34.1,-18,34.1,-19.3,25,-21.9,19.9,-29.6,16,-36,12.1,-39.9,7.6,-43.7,7],
  [-39,18,-29,21.4,-28.3,19.2,-38.6,15.8],
  [-15.2,14,-14.8,14.4,-14.4,14,-14.8,13.6],
  [-39.9,4.4,-37.3,5.7,-29.6,0.5,-23.1,4.4,-19.3,2.4,-18.6,-2.1,-23.1,-4.7,-28.9,-2.7,-36,-5.3,-39.2,-1.4],
  [-37.9,-0.1,-36,2.4,-29,-2,-34.7,-3.4],
  [-26.4,-2,-20.6,1.2,-18.6,0.5,-18.6,-2.1,-23.1,-3.6],
  [-35,-1.4,-33.4,-0.4,-32.5,-2.4,-34.5,-2.4],
  [-62.8,-13.7,-59.8,-6,-52.1,0.5,-49.5,-2.1,-54,-15,-59.2,-18.2],
  [-60.7,-12.4,-57.2,-7.2,-53.8,-6,-53.4,-10.5,-56.6,-15,-59.2,-15],
  [-75,-26.6,-73.3,-22,-66.3,-20.8,-65,-26.6,-69.5,-32.4,-73.3,-31.8],
  [-55.3,-33.1,-53.4,-26,-42.4,-22.8,-39.9,-20.2,-25.7,-21.5,-26.4,-25.3,-34.7,-29.2,-41.2,-33.1,-51.5,-37],
  [-52.7,-33.1,-50.8,-27.9,-38.6,-23.4,-37.3,-26.6,-43.7,-31.8,-50.2,-33.7],
  [-49.9,-29.9,-46.3,-27.9,-42.4,-27.9,-43.1,-31.8,-48.2,-32.4],
  [-31.3,-24,-30.9,-23.7,-30.5,-24],
  [-62.8,-51.2,-60.2,-48,-54.7,-57,-56.6,-58.9,-61.7,-57],
  [-46.3,-55,-42.4,-49.2,-36,-53.8,-33.4,-57.6,-21.9,-57.6,-18.3,-64,-21.9,-70,-32.1,-65.4,-41.2,-62.8,-45.7,-58.3],
  [-41.8,-54.4,-40.5,-53.5,-40.5,-56.3],
  [-11.5,-34,-8.8,-26.5,-1,-25,6,-26,8.6,-34,3,-39.2,-3.9,-40.7],
  [-9.5,-33.5,-7,-27.5,-1,-26.5,4.5,-28,6.3,-33.5,2,-37.5,-4,-38.5],
  [-7.8,-33,-5.5,-29,-1,-28,3,-29.5,4,-33,1,-36,-4,-37],
  [-6.5,-32.8,-4,-30,-1,-29.5,1.5,-31,2.3,-33.2,-0.5,-35,-4,-35.5],
  [-5.5,-33,-3,-31,-1,-31,0.7,-33,-1,-34.5,-3.5,-34.5],
  [-5.1,-49.5,0,-48,4,-46,7.7,-54,7.8,-60.2,2,-62,-5,-60,-6,-54],
  [-4.5,-54,-1.3,-50,3,-50.5,2.8,-55,0,-58,-3.9,-58],
  [4.9,-16.9,9,-13.7,21.8,-20.8,35.4,-23.4,37.3,-28.6,25.7,-32.4,18.6,-34.4,17.3,-39.5,25,-48,33.7,-46.7,33.7,-51.8,27.6,-55.3,23.8,-50,17,-44,16,-37,15.5,-30,9,-25,5,-21],
  [7,-16.3,10.3,-15,20.6,-21.5,33.4,-25.3,33.4,-28.6,20.6,-30.5,17.3,-24,7.7,-20.2],
  [19.9,-24,21.8,-22.7,26.7,-26.6,23.8,-28.6,20.6,-27.9],
  [9,-17.6,11.5,-17,13.5,-18.2,10.3,-18.9],
  [47,-8.5,50.8,-4.4,55.3,-7.2,56.6,-13.7,52.7,-16.2,48.2,-13.7],
  [48.8,-8.8,51.4,-6.2,54,-8.8,54.6,-12.5,52,-13.8,49.5,-11.5],
  [50.2,-8.5,51.4,-7.9,52.7,-9.8,51.2,-10.7],
  [56,-24,59.2,-18.2,64.3,-17,69.5,-21.5,77.2,-24,76.5,-26.6,68.2,-28.6,60.5,-30.5],
  [32.8,18.6,37.3,19.6,48.9,18,52.1,14.7,50.2,10.8,43.7,7.6,39.9,8.3,36,14.1],
  [38.6,16,50.2,15.4,47.6,8.3,41.8,7],
  [41.2,12.8,43.7,15.4,47.6,13.4,46.3,9.6,43.1,9.6]
];
const region5Stars = [[21,-5],[-28,8],[-20,-28],[-50,-45]];
const region5Crosses = [[8,7],[-32,-12],[-10,2],[57,3],[30,-37],[-64,-1],[14,-49]];
const region5Labels = [['0',19.3,-9.7],['1',7,2.3],['2',-33,-16.7],['3',-11,-2.7],['4',-29.7,3.9],['5',54.4,-2],['6',-21.2,-33],['7',-51.4,-48.8],['8',28.6,-42],['9',-65,-5.8],['10',11.2,-53.5]];
const region5Err = [5.2,4.3];

const errorCentre = [80, 80];
const blueColor = 'rgb(72, 52, 225)';
const redColor = 'rgb(222, 30, 55)';
const tickFont = { family: '"DejaVu Sans"', size: 11, lineHeight: 0.55 };

function toPoints(flat) {
    const pts = [];
    for (let i = 0; i < flat.length; i += 2) pts.push({ x: flat[i], y: flat[i + 1] });
    return pts;
}

// wrap a point round each end so the spline closes without a kink,
// the two extra end segments stay invisible so nothing is drawn twice
function closedLine(flat, color) {
    const pts = toPoints(flat);
    const loop = [pts[pts.length - 1]].concat(pts, [pts[0], pts[1]]);
    const last = loop.length - 1;
    return {
        data: loop, borderColor: color, borderWidth: 1.15, pointRadius: 0, showLine: true, tension: 0.4,
        segment: { borderColor: ctx => (ctx.p0DataIndex === 0 || ctx.p1DataIndex === last) ? 'transparent' : undefined }
    };
}

function marks(list, style, radius) {
    return {
        data: list.map(p => ({ x: p[0], y: p[1] })),
        showLine: false, pointStyle: style, pointRadius: radius,
        pointBorderColor: '#000', pointBorderWidth: 1.6, pointBackgroundColor: 'transparent'
    };
}

function errorBars(err) {
    const [cx, cy] = errorCentre;
    const common = { borderColor: '#111', borderWidth: 1.2, showLine: true, pointStyle: 'line',
        pointRadius: 2, pointBorderColor: '#111', pointBorderWidth: 1.2 };
    return [
        Object.assign({ data: [{ x: cx - err[0], y: cy }, { x: cx + err[0], y: cy }], pointRotation: 90 }, common),
        Object.assign({ data: [{ x: cx, y: cy - err[1] }, { x: cx, y: cy + err[1] }], pointRotation: 0 }, common)
    ];
}

// frame, inward ticks on all four sides, and the numbers next to the marks
const framePlugin = {
    id: 'frame',
    afterDatasetsDraw(chart) {
        const { ctx, chartArea: a, scales: { x, y } } = chart;
        ctx.save();
        ctx.strokeStyle = '#222';
        ctx.lineWidth = 1;
        ctx.beginPath();
        x.ticks.forEach(t => {
            const px = x.getPixelForValue(t.value);
            const len = t.value % 50 === 0 ? 10 : 5;
            ctx.moveTo(px, a.bottom); ctx.lineTo(px, a.bottom - len);
            ctx.moveTo(px, a.top); ctx.lineTo(px, a.top + len);
        });
        y.ticks.forEach(t => {
            const py = y.getPixelForValue(t.value);
            const len = t.value % 50 === 0 ? 10 : 5;
            ctx.moveTo(a.left, py); ctx.lineTo(a.left + len, py);
            ctx.moveTo(a.right, py); ctx.lineTo(a.right - len, py);
        });
        ctx.stroke();
        ctx.lineWidth = 1.4;
        ctx.strokeRect(a.left, a.top, a.right - a.left, a.bottom - a.top);
        ctx.fillStyle = '#222';
        ctx.font = '13px "DejaVu Sans"';
        ctx.textAlign = 'center';
        ctx.textBaseline = 'middle';
        chart.options.plugins.frame.labels.forEach(l => {
            ctx.fillText(l[0], x.getPixelForValue(l[1]), y.getPixelForValue(l[2]));
        });
        ctx.restore();
    }
};

function tickText(v) {
    if (v % 50 !== 0) return '';
    return v < 0 ? '\u2212' + Math.abs(v) : String(v);
}

function makeChart(id, blue, red, stars, crosses, labels, err, openBlue) {
    const datasets = blue.map(c => closedLine(c, blueColor));
    (openBlue || []).forEach(c => datasets.push({ data: toPoints(c), borderColor: blueColor, borderWidth: 1.15, pointRadius: 0, showLine: true, tension: 0.4 }));
    red.forEach(c => datasets.push(closedLine(c, redColor)));
    datasets.push(marks(stars, 'star', 10), marks(crosses, 'cross', 8));
    errorBars(err).forEach(d => datasets.push(d));

    new Chart(document.getElementById(id), {
        type: 'scatter',
        data: { datasets: datasets },
        plugins: [framePlugin],
        options: {
            responsive: false,
            animation: false,
            layout: { padding: { left: 0, top: 13, right: 28, bottom: 0 } },
            plugins: { legend: { display: false }, tooltip: { enabled: false }, frame: { labels: labels } },
            scales: {
                x: {
                    type: 'linear', min: -100, max: 100,
                    afterFit: s => { s.height = 40.5; },
                    grid: { display: false, drawTicks: false },
                    border: { display: false },
                    ticks: { stepSize: 10, autoSkip: false, maxRotation: 0, padding: 10, color: '#222', font: tickFont, callback: tickText },
                    title: { display: true, text: 'U [km s\u207B\u00B9]', color: '#222', font: { family: '"DejaVu Sans"', size: 11 }, padding: { top: 0, bottom: 7 } }
                },
                y: {
                    type: 'linear', min: -100, max: 100,
                    afterFit: s => { s.width = 62.5; },
                    grid: { display: false, drawTicks: false },
                    border: { display: false },
                    ticks: {
                        stepSize: 10, autoSkip: false, padding: 4, color: '#222', font: tickFont,
                        callback: v => {
                            const t = tickText(v);
                            if (v === 100) return ['', t];
                            if (v === -100) return [t, ''];
                            return t;
                        }
                    },
                    title: { display: true, text: 'V [km s\u207B\u00B9]', color: '#222', font: { family: '"DejaVu Sans"', size: 11 }, padding: { top: 9, bottom: 0 } }
                }
            }
        }
    });
}

makeChart('c2', region2Blue, region2Red, region2Stars, region2Crosses, region2Labels, region2Err);
makeChart('c3', region3Blue, region3Red, region3Stars, region3Crosses, region3Labels, region3Err);
makeChart('c4', region4Blue, region4Red, region4Stars, region4Crosses, region4Labels, region4Err);
makeChart('c5', region5Blue, region5Red, region5Stars, region5Crosses, region5Labels, region5Err, region5BlueOpen);
</script>
</body>
</html>
